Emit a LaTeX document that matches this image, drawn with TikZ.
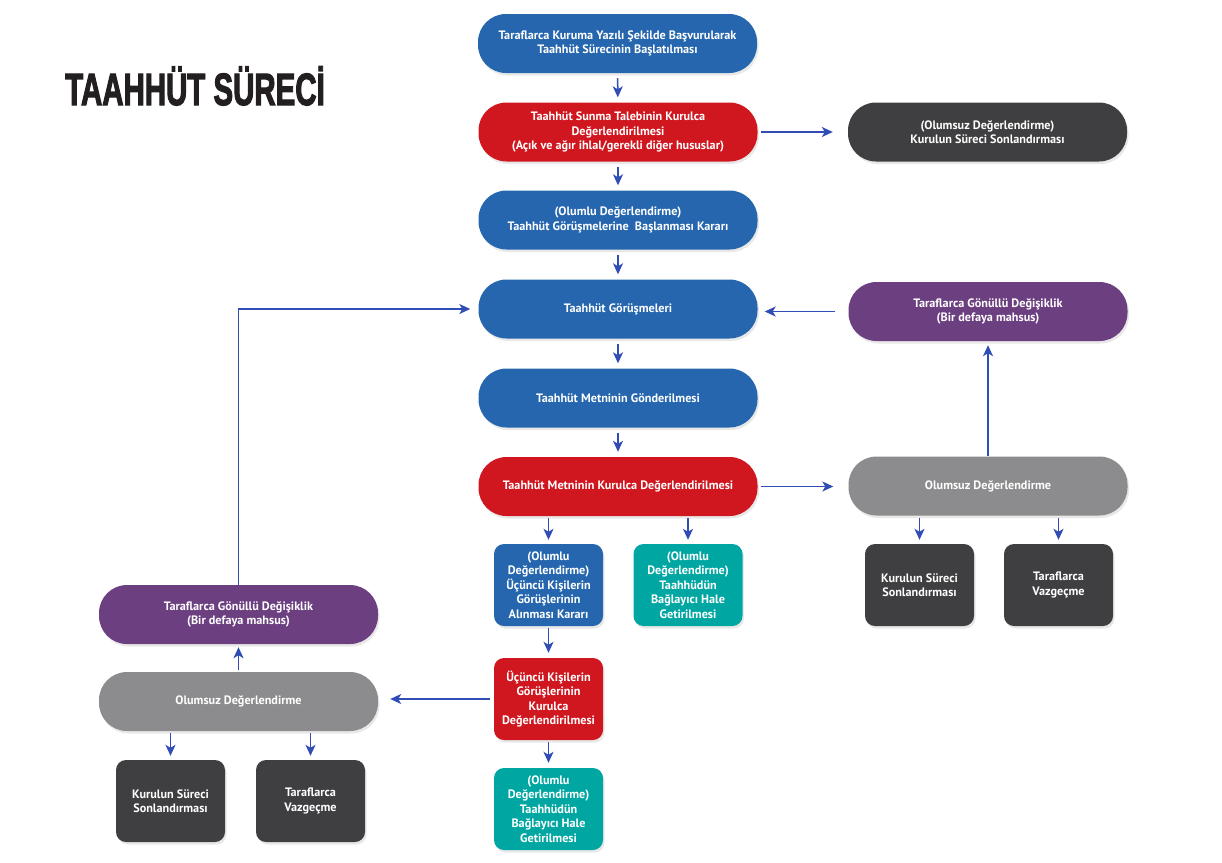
\documentclass[tikz,border=0pt]{standalone}
\usepackage{fontspec}
\setmainfont{PT Sans}
\newfontfamily\titlefont[FakeBold=3]{Liberation Sans}
\usetikzlibrary{arrows.meta,shadows,calc}
\definecolor{cblue}{HTML}{2566AE}
\definecolor{cred}{HTML}{D0161F}
\definecolor{cdark}{HTML}{3F3E40}
\definecolor{cgray}{HTML}{8C8C8E}
\definecolor{cpurple}{HTML}{6C3F80}
\definecolor{cteal}{HTML}{00A7A2}
\definecolor{carrow}{HTML}{2F4DB5}
\definecolor{ctitle}{HTML}{231F20}
\begin{document}
\begin{tikzpicture}[x=1pt,y=-1pt,
  base/.style={text=white,font=\bfseries\fontsize{12.2}{14.6}\selectfont,align=center,inner sep=0pt,
    drop shadow={opacity=0.18,shadow xshift=1.5pt,shadow yshift=-2.5pt}},
  pill/.style={base,rectangle,rounded corners=28pt,minimum width=279pt,minimum height=59pt},
  sbox/.style={base,rectangle,rounded corners=10pt,minimum width=109pt,minimum height=82pt},
  arr/.style={draw=carrow,line width=1.5pt,-{Stealth[length=11pt,width=10pt,inset=3pt]}}
]
\useasboundingbox (0,0) rectangle (1222,862);
\node[anchor=base west,text=ctitle,inner sep=0pt] (title) at (65,105)
  {\scalebox{0.685}[1.05]{\titlefont\bfseries\fontsize{43}{43}\selectfont TAAHHÜT SÜRECİ}};

\node[pill,fill=cblue] (n1) at (617.5,43.5) {Taraflarca Kuruma Yazılı Şekilde Başvurularak\\Taahhüt Sürecinin Başlatılması};
\node[pill,fill=cred] (n2) at (618,132) {Taahhüt Sunma Talebinin Kurulca\\Değerlendirilmesi\\(Açık ve ağır ihlal/gerekli diğer hususlar)};
\node[pill,fill=cdark] (n3) at (987.5,132) {(Olumsuz Değerlendirme)\\Kurulun Süreci Sonlandırması};
\node[pill,fill=cblue] (n4) at (618,220) {(Olumlu Değerlendirme)\\Taahhüt Görüşmelerine\ \ Başlanması Kararı};
\node[pill,fill=cblue] (n5) at (618,309) {Taahhüt Görüşmeleri};
\node[pill,fill=cpurple] (n6) at (988,311.5) {Taraflarca Gönüllü Değişiklik\\(Bir defaya mahsus)};
\node[pill,fill=cblue] (n7) at (618,398) {Taahhüt Metninin Gönderilmesi};
\node[pill,fill=cred] (n8) at (618,486.5) {Taahhüt Metninin Kurulca Değerlendirilmesi};
\node[pill,fill=cgray] (n9) at (988,486) {Olumsuz Değerlendirme};
\node[sbox,fill=cblue] (n10) at (548.5,585) {(Olumlu\\Değerlendirme)\\Üçüncü Kişilerin\\Görüşlerinin\\Alınması Kararı};
\node[sbox,fill=cteal] (n11) at (688,585) {(Olumlu\\Değerlendirme)\\Taahhüdün\\Bağlayıcı Hale\\Getirilmesi};
\node[sbox,fill=cdark] (n12) at (919.5,585) {Kurulun Süreci\\Sonlandırması};
\node[sbox,fill=cdark] (n13) at (1058.5,585) {Taraflarca\\Vazgeçme};
\node[sbox,fill=cred] (n14) at (548.5,699) {Üçüncü Kişilerin\\Görüşlerinin\\Kurulca\\Değerlendirilmesi};
\node[sbox,fill=cteal] (n15) at (548.5,809) {(Olumlu\\Değerlendirme)\\Taahhüdün\\Bağlayıcı Hale\\Getirilmesi};
\node[pill,fill=cgray] (n16) at (238.5,701.5) {Olumsuz Değerlendirme};
\node[pill,fill=cpurple] (n17) at (238.5,614.5) {Taraflarca Gönüllü Değişiklik\\(Bir defaya mahsus)};
\node[sbox,fill=cdark] (n18) at (170.5,801) {Kurulun Süreci\\Sonlandırması};
\node[sbox,fill=cdark] (n19) at (310.5,801) {Taraflarca\\Vazgeçme};

\draw[arr,shorten <=5pt,shorten >=5pt] (n1) -- (n2);
\draw[arr,shorten <=5pt,shorten >=5pt] (n2) -- (n4);
\draw[arr,shorten <=5pt,shorten >=5pt] (n4) -- (n5);
\draw[arr,shorten <=5pt,shorten >=5pt] (n5) -- (n7);
\draw[arr,shorten <=5pt,shorten >=5pt] (n7) -- (n8);
\draw[arr,shorten <=3pt,shorten >=15pt] (n2) -- (n3);
\draw[arr,shorten <=13pt,shorten >=7pt] (n6.west) -- (n6.west -| n5.east);
\draw[arr,shorten <=3pt,shorten >=15pt] (n8.east) -- (n8.east -| n9.west);
\draw[arr,shorten >=4pt] (n9.north) -- (n6.south);
\draw[arr,shorten <=2pt,shorten >=4pt] (n8.south -| n10) -- (n10.north);
\draw[arr,shorten <=2pt,shorten >=4pt] (n8.south -| n11) -- (n11.north);
\draw[arr,shorten <=2pt,shorten >=4pt] (n9.south -| n12) -- (n12.north);
\draw[arr,shorten <=2pt,shorten >=4pt] (n9.south -| n13) -- (n13.north);
\draw[arr,shorten <=2pt,shorten >=5pt] (n10) -- (n14);
\draw[arr,shorten <=2pt,shorten >=5pt] (n14) -- (n15);
\draw[arr,shorten <=4pt,shorten >=12pt] (n14.west) -- (n14.west -| n16.east);
\draw[arr,shorten <=2pt,shorten >=3pt] (n16) -- (n17);
\draw[arr,shorten <=2pt,shorten >=4pt] (n16.south -| n18) -- (n18.north);
\draw[arr,shorten <=2pt,shorten >=4pt] (n16.south -| n19) -- (n19.north);
\draw[arr,shorten >=8pt] (n17.north) |- (n5.west);
\end{tikzpicture}
\end{document}
